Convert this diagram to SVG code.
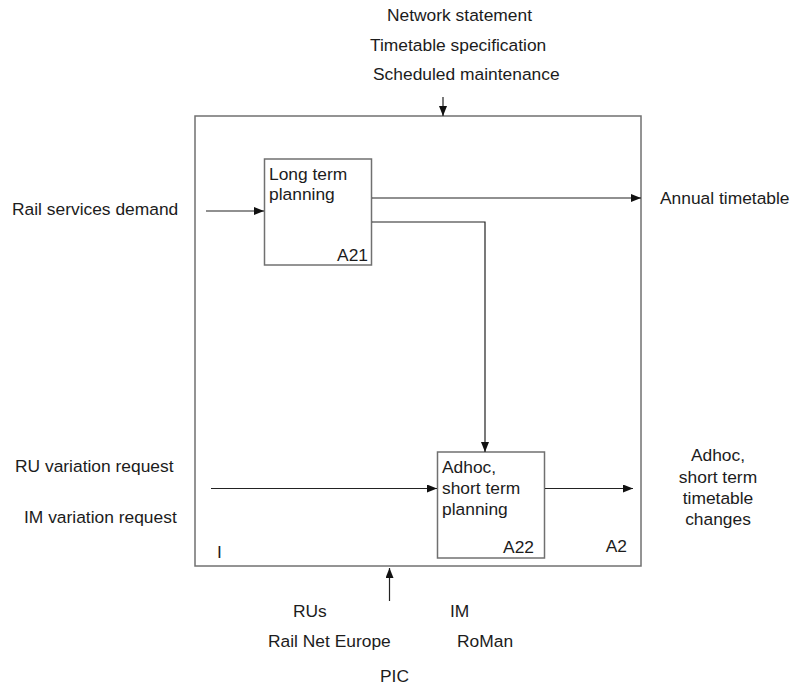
<svg xmlns="http://www.w3.org/2000/svg" width="791" height="685" viewBox="0 0 791 685">
  <defs>
    <marker id="arrow" viewBox="0 0 10 8" refX="10" refY="4" markerWidth="10" markerHeight="8" markerUnits="userSpaceOnUse" orient="auto">
      <path d="M0,0 L10,4 L0,8 Z" fill="#111"/>
    </marker>
  </defs>
  <style>
    text { font-family: "Liberation Sans", Arial, sans-serif; font-size: 17.4px; fill: #1c1c1c; }
    .box { fill: #fff; stroke: #707070; stroke-width: 1.5; }
    .conn { fill: none; stroke: #222; stroke-width: 1.2; marker-end: url(#arrow); }
    .mid { text-anchor: middle; }
    .end { text-anchor: end; }
  </style>
  <rect width="791" height="685" fill="#fff"/>

  <!-- outer context box A2 -->
  <g id="A2">
    <rect class="box" x="195" y="116" width="446" height="450"/>
    <text x="217" y="558" font-size="16">I</text>
    <text class="end" x="627" y="552">A2</text>
  </g>

  <!-- activity A21 -->
  <g id="A21">
    <rect class="box" x="264.5" y="159" width="107" height="106"/>
    <text x="269" y="180">Long term</text>
    <text x="269" y="200">planning</text>
    <text class="end" x="368" y="261">A21</text>
  </g>

  <!-- activity A22 -->
  <g id="A22">
    <rect class="box" x="437.5" y="452" width="107" height="106"/>
    <text x="442" y="473">Adhoc,</text>
    <text x="442" y="494">short term</text>
    <text x="442" y="515">planning</text>
    <text class="end" x="534" y="553">A22</text>
  </g>

  <!-- controls -->
  <g id="controls">
    <text x="387" y="21">Network statement</text>
    <text x="370" y="51">Timetable specification</text>
    <text x="373" y="80">Scheduled maintenance</text>
  </g>

  <!-- inputs -->
  <g id="inputs">
    <text x="12" y="215">Rail services demand</text>
    <text x="15" y="472">RU variation request</text>
    <text x="24" y="523">IM variation request</text>
  </g>

  <!-- outputs -->
  <g id="outputs">
    <text x="660" y="204">Annual timetable</text>
    <text class="mid" x="718" y="461">Adhoc,</text>
    <text class="mid" x="718" y="483">short term</text>
    <text class="mid" x="718" y="504">timetable</text>
    <text class="mid" x="718" y="525">changes</text>
  </g>

  <!-- mechanisms -->
  <g id="mechanisms">
    <text x="293" y="617">RUs</text>
    <text x="450" y="617">IM</text>
    <text x="268" y="647">Rail Net Europe</text>
    <text x="457" y="647">RoMan</text>
    <text x="380" y="682">PIC</text>
  </g>

  <!-- connectors -->
  <g id="connectors">
    <line class="conn" x1="443" y1="97" x2="443" y2="116"/>
    <line class="conn" x1="206" y1="211" x2="264" y2="211"/>
    <line class="conn" x1="372" y1="198" x2="641" y2="198"/>
    <polyline class="conn" points="372,222 485,222 485,452"/>
    <line class="conn" x1="211" y1="488.5" x2="437" y2="488.5"/>
    <line class="conn" x1="545" y1="488.5" x2="633" y2="488.5"/>
    <line class="conn" x1="389.5" y1="601" x2="389.5" y2="568"/>
  </g>
</svg>
